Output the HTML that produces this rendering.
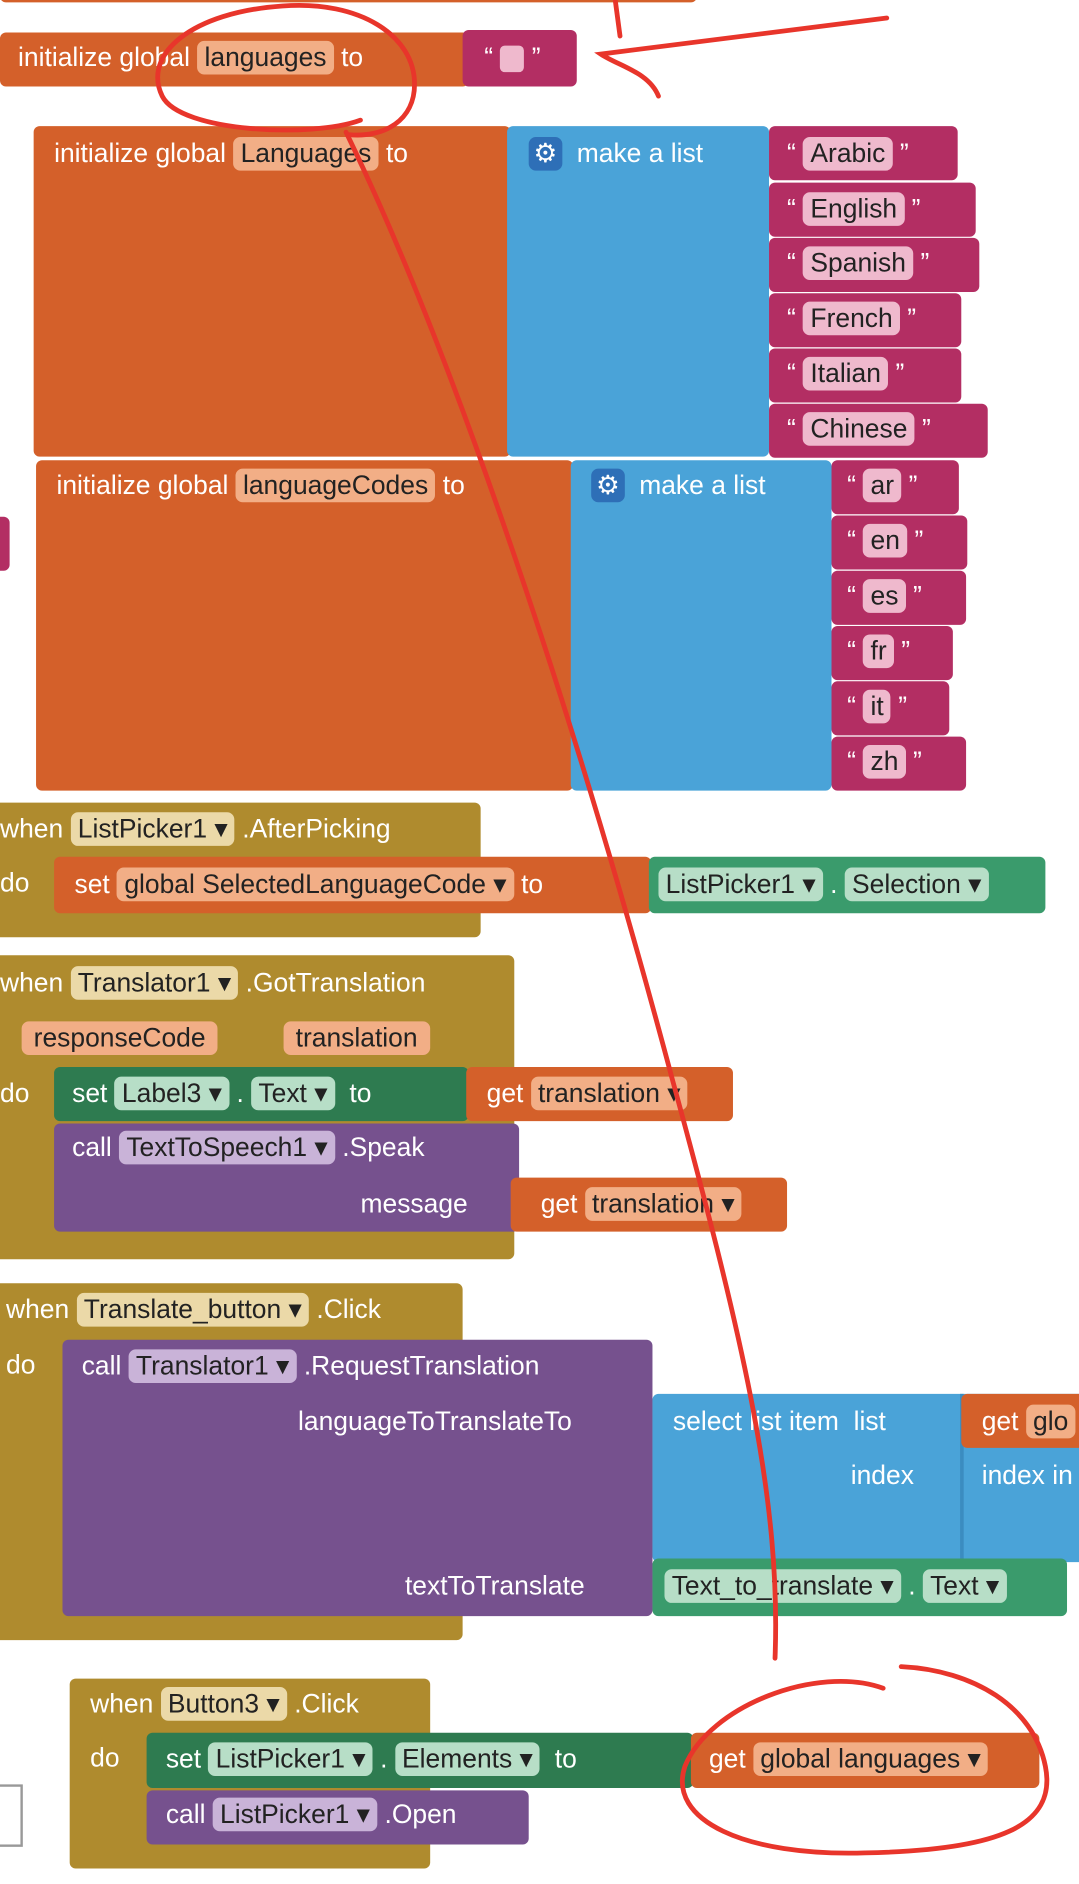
<!DOCTYPE html>
<html><head><meta charset="utf-8"><style>
html,body{margin:0;padding:0;background:#fff;width:1079px;height:1884px;overflow:hidden}
#w{position:absolute;left:0;top:0;width:898px;height:1568px;transform:scale(1.2016);transform-origin:0 0;font-family:"Liberation Sans",sans-serif;font-size:22px;color:#fff}
.b{position:absolute;border-radius:5px}
.t{position:absolute;white-space:nowrap;line-height:30px}
.f{display:inline-block;border-radius:6px;padding:0 6px;line-height:28px;color:#222}
.o{background:#D4602A}.bl{background:#4AA3D8}.m{background:#B32E63}.g{background:#AF8B2E}
.dg{background:#2E7B50}.lg{background:#3A9B6C}.p{background:#76518E}
.fo{background:#F2AE86}.fm{background:#EFB9CD}.fg{background:#EBD9A8}.fl{background:#B7DEC7}.fp{background:#C9B3D8}
</style></head><body><div id="w">
<div class="b o" style="left:0;top:-10px;width:580px;height:12px"></div>
<div class="b o" style="left:0;top:27px;width:390px;height:45px"></div>
<div class="t" style="left:15px;top:33px">initialize global <span class="f fo">languages</span> to</div>
<div class="b m" style="left:385px;top:25px;width:95px;height:47px"></div>
<div class="t" style="left:403px;top:33px">“ <span style="display:inline-block;width:20px;height:22px;background:#EFB9CD;border-radius:4px;vertical-align:middle"></span> ”</div>

<div class="b o" style="left:28px;top:105px;width:397px;height:275px"></div>
<div class="t" style="left:45px;top:113px">initialize global <span class="f fo">Languages</span> to</div>
<div class="b bl" style="left:422px;top:105px;width:218px;height:275px"></div>
<div class="t" style="left:440px;top:113px"><span class="f" style="background:#2E6FB7;color:#fff;padding:0 4px">⚙</span>&nbsp; make a list</div>
<div class="b m" style="left:640px;top:105px;width:157px;height:45px"></div><div class="t" style="left:655px;top:113px">“ <span class="f fm">Arabic</span> ”</div>
<div class="b m" style="left:640px;top:152px;width:172px;height:45px"></div><div class="t" style="left:655px;top:159px">“ <span class="f fm">English</span> ”</div>
<div class="b m" style="left:640px;top:198px;width:175px;height:45px"></div><div class="t" style="left:655px;top:204px">“ <span class="f fm">Spanish</span> ”</div>
<div class="b m" style="left:640px;top:244px;width:160px;height:45px"></div><div class="t" style="left:655px;top:250px">“ <span class="f fm">French</span> ”</div>
<div class="b m" style="left:640px;top:290px;width:160px;height:45px"></div><div class="t" style="left:655px;top:296px">“ <span class="f fm">Italian</span> ”</div>
<div class="b m" style="left:640px;top:336px;width:182px;height:45px"></div><div class="t" style="left:655px;top:342px">“ <span class="f fm">Chinese</span> ”</div>

<div class="b o" style="left:30px;top:383px;width:447px;height:275px"></div>
<div class="t" style="left:47px;top:389px">initialize global <span class="f fo">languageCodes</span> to</div>
<div class="b bl" style="left:475px;top:383px;width:217px;height:275px"></div>
<div class="t" style="left:492px;top:389px"><span class="f" style="background:#2E6FB7;color:#fff;padding:0 4px">⚙</span>&nbsp; make a list</div>
<div class="b m" style="left:692px;top:383px;width:106px;height:45px"></div><div class="t" style="left:705px;top:389px">“ <span class="f fm">ar</span> ”</div>
<div class="b m" style="left:692px;top:429px;width:113px;height:45px"></div><div class="t" style="left:705px;top:435px">“ <span class="f fm">en</span> ”</div>
<div class="b m" style="left:692px;top:475px;width:112px;height:45px"></div><div class="t" style="left:705px;top:481px">“ <span class="f fm">es</span> ”</div>
<div class="b m" style="left:692px;top:521px;width:101px;height:45px"></div><div class="t" style="left:705px;top:527px">“ <span class="f fm">fr</span> ”</div>
<div class="b m" style="left:692px;top:567px;width:98px;height:45px"></div><div class="t" style="left:705px;top:573px">“ <span class="f fm">it</span> ”</div>
<div class="b m" style="left:692px;top:613px;width:112px;height:45px"></div><div class="t" style="left:705px;top:619px">“ <span class="f fm">zh</span> ”</div>
<div class="b m" style="left:-5px;top:430px;width:13px;height:45px"></div>

<div class="b g" style="left:-5px;top:668px;width:405px;height:112px"></div>
<div class="t" style="left:0;top:675px">when <span class="f fg">ListPicker1 ▾</span> .AfterPicking</div>
<div class="t" style="left:0;top:720px">do</div>
<div class="b o" style="left:45px;top:713px;width:497px;height:47px"></div>
<div class="t" style="left:62px;top:721px">set <span class="f fo">global SelectedLanguageCode ▾</span> to</div>
<div class="b lg" style="left:540px;top:713px;width:330px;height:47px"></div>
<div class="t" style="left:548px;top:721px"><span class="f fl">ListPicker1 ▾</span> . <span class="f fl">Selection ▾</span></div>

<div class="b g" style="left:-5px;top:795px;width:433px;height:253px"></div>
<div class="t" style="left:0;top:803px">when <span class="f fg">Translator1 ▾</span> .GotTranslation</div>
<div class="t" style="left:18px;top:849px"><span class="f fo" style="padding:0 10px">responseCode</span></div>
<div class="t" style="left:236px;top:849px"><span class="f fo" style="padding:0 10px">translation</span></div>
<div class="t" style="left:0;top:895px">do</div>
<div class="b dg" style="left:45px;top:888px;width:345px;height:45px"></div>
<div class="t" style="left:60px;top:895px">set <span class="f fl">Label3 ▾</span> . <span class="f fl">Text ▾</span> &nbsp;to</div>
<div class="b o" style="left:388px;top:888px;width:222px;height:45px"></div>
<div class="t" style="left:405px;top:895px">get <span class="f fo">translation ▾</span></div>
<div class="b p" style="left:45px;top:935px;width:387px;height:90px"></div>
<div class="t" style="left:60px;top:940px">call <span class="f fp">TextToSpeech1 ▾</span> .Speak</div>
<div class="t" style="left:300px;top:987px">message</div>
<div class="b o" style="left:425px;top:980px;width:230px;height:45px"></div>
<div class="t" style="left:450px;top:987px">get <span class="f fo">translation ▾</span></div>

<div class="b g" style="left:-5px;top:1068px;width:390px;height:297px"></div>
<div class="t" style="left:5px;top:1075px">when <span class="f fg">Translate_button ▾</span> .Click</div>
<div class="t" style="left:5px;top:1121px">do</div>
<div class="b p" style="left:52px;top:1115px;width:491px;height:230px"></div>
<div class="t" style="left:68px;top:1122px">call <span class="f fp">Translator1 ▾</span> .RequestTranslation</div>
<div class="t" style="left:248px;top:1168px">languageToTranslateTo</div>
<div class="t" style="left:337px;top:1305px">textToTranslate</div>
<div class="b bl" style="left:543px;top:1160px;width:360px;height:140px"></div>
<div class="t" style="left:560px;top:1168px">select list item &nbsp;list</div>
<div class="t" style="left:708px;top:1213px">index</div>
<div style="position:absolute;left:799px;top:1160px;width:3px;height:140px;background:#3B8CC0"></div>
<div class="b o" style="left:800px;top:1160px;width:110px;height:45px"></div>
<div class="t" style="left:817px;top:1168px">get <span class="f fo">glo</span></div>
<div class="t" style="left:817px;top:1213px">index in</div>
<div class="b lg" style="left:543px;top:1297px;width:345px;height:48px"></div>
<div class="t" style="left:553px;top:1305px"><span class="f fl">Text_to_translate ▾</span> . <span class="f fl">Text ▾</span></div>

<div class="b g" style="left:58px;top:1397px;width:300px;height:158px"></div>
<div class="t" style="left:75px;top:1403px">when <span class="f fg">Button3 ▾</span> .Click</div>
<div class="t" style="left:75px;top:1448px">do</div>
<div class="b dg" style="left:122px;top:1442px;width:455px;height:46px"></div>
<div class="t" style="left:138px;top:1449px">set <span class="f fl">ListPicker1 ▾</span> . <span class="f fl">Elements ▾</span> &nbsp;to</div>
<div class="b o" style="left:575px;top:1442px;width:290px;height:46px"></div>
<div class="t" style="left:590px;top:1449px">get <span class="f fo">global languages ▾</span></div>
<div class="b p" style="left:122px;top:1490px;width:318px;height:45px"></div>
<div class="t" style="left:138px;top:1495px">call <span class="f fp">ListPicker1 ▾</span> .Open</div>
<div style="position:absolute;left:-3px;top:1485px;width:18px;height:48px;border:2px solid #999;background:#fff"></div>

<svg style="position:absolute;left:0;top:0" width="898" height="1568" fill="none" stroke="#E8352B" stroke-width="4" stroke-linecap="round">
<path d="M300 100 C 260 115,150 110,135 80 C 118 45,160 10,235 5 C 300 0,345 30,345 70 C 345 100,320 115,290 112"/>
<path d="M512 0 L516 30"/>
<path d="M738 15 L500 45 C 515 55,540 60,548 80"/>
<path d="M288 110 C 380 300,480 600,560 900 C 620 1120,650 1250,645 1380"/>
<path d="M735 1405 C 680 1385,590 1420,570 1470 C 555 1515,620 1545,720 1542 C 830 1540,880 1520,870 1470 C 860 1420,810 1390,750 1387"/>
</svg>
</div></body></html>
